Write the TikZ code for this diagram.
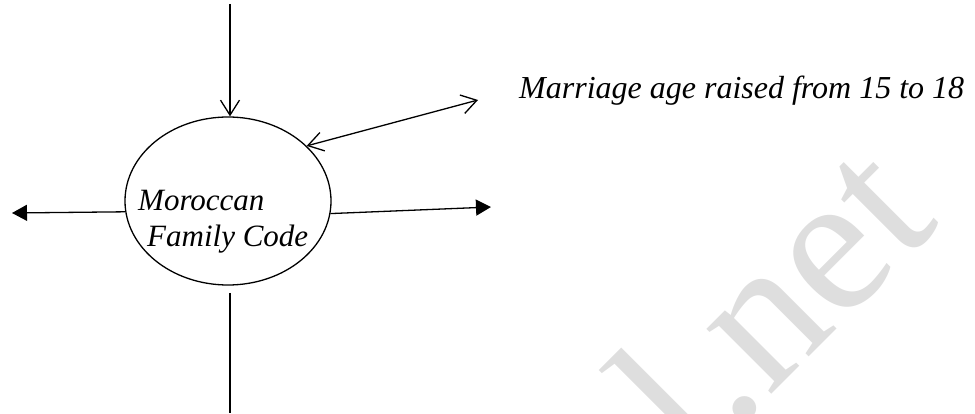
\documentclass[tikz,border=0pt]{standalone}
\usepackage{fontspec}
\setmainfont{Liberation Serif}
\usetikzlibrary{arrows.meta,shapes.geometric}
\tikzset{
  conn/.style={line width=1.3pt},
  openhead/.style={conn,-{Straight Barb[length=15pt,width=19pt,line width=1.3pt]}},
  bothopen/.style={conn,{Straight Barb[length=15pt,width=19pt,line width=1.3pt]}-{Straight Barb[length=15pt,width=19pt,line width=1.3pt]}},
  filledhead/.style={conn,-{Triangle[length=15pt,width=16pt]}},
  oval/.style={ellipse,draw,line width=1.3pt,minimum width=206pt,minimum height=168pt,inner sep=0pt},
  lbl/.style={font=\fontsize{31pt}{36pt}\selectfont\itshape,inner sep=0pt,anchor=base west},
  biglbl/.style={lbl,font=\fontsize{32pt}{36pt}\selectfont\itshape},
  wmark/.style={font=\fontsize{200pt}{200pt}\selectfont,text=black!13,inner sep=0pt,anchor=base west,rotate=45}
}
\begin{document}
\begin{tikzpicture}[x=1pt,y=-1pt]
\useasboundingbox (0,0) rectangle (975,414);
\begin{scope}
\clip (0,0) rectangle (975,414);
\node[wmark] (wm) at (694,472) {l.net};
\end{scope}
\node[oval] (fc) at (228,201) {};
\node[lbl] (t1) at (138,211) {Moroccan};
\node[lbl] (t2) at (147,247) {Family Code};
\node[biglbl] (ml) at (519,99) {Marriage age raised from 15 to 18};
\coordinate (topin) at (230,4);
\coordinate (lout) at (12,213);
\coordinate (rout) at (491,207);
\coordinate (mtip) at (478,100);
\coordinate (bs) at (230,293);
\coordinate (be) at (230,413);
\draw[openhead] (topin) -- (topin |- fc.north);
\draw[filledhead] (fc.186.7) -- (lout);
\draw[filledhead] (fc.353.3) -- (rout);
\draw[bothopen] (fc.35) -- (mtip);
\draw[conn] (bs) -- (be);
\end{tikzpicture}
\end{document}
